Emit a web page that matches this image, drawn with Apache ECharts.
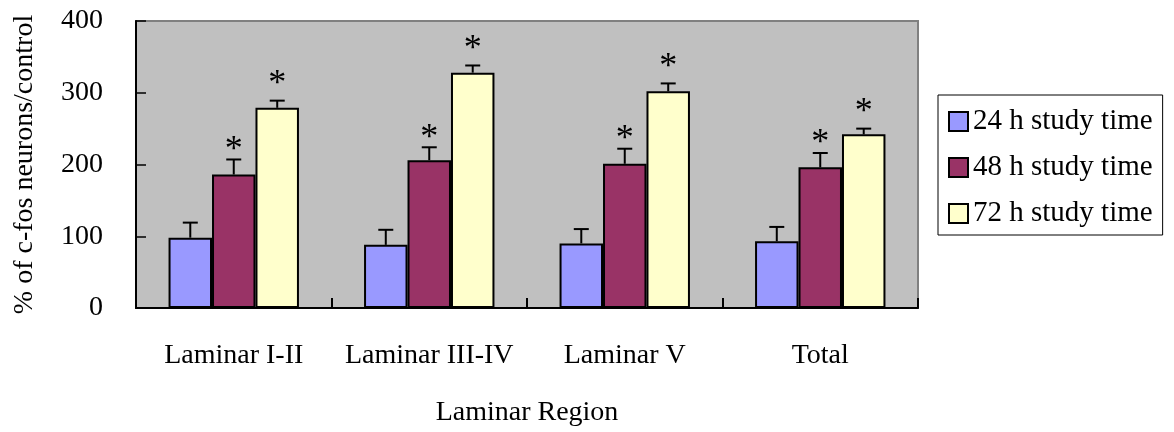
<!DOCTYPE html>
<html>
<head>
<meta charset="utf-8">
<script src="https://cdn.jsdelivr.net/npm/echarts@6/dist/echarts.min.js"></script>
<style>html,body{margin:0;padding:0;background:#fff;}#c{width:1174px;height:432px;}</style>
</head>
<body>
<div id="c"></div>
<script>
const categories = ['Laminar I-II', 'Laminar III-IV', 'Laminar V', 'Total'];
const seriesNames = ['24 h study time', '48 h study time', '72 h study time'];
const h24 = [98, 88, 90, 93];
const h24Err = [21, 21, 20, 20];
const h48 = [186, 206, 201, 196];
const h48Err = [21, 18, 21, 20];
const h72 = [279, 328, 302, 242];
const h72Err = [10, 10, 11, 8];
const sig24 = [0, 0, 0, 0];
const sig48 = [1, 1, 1, 1];
const sig72 = [1, 1, 1, 1];
const yTicks = [0, 100, 200, 300, 400];

const FONT = '"Liberation Serif", "Times New Roman", serif';
const colors = ['#9999FF', '#993366', '#FFFFCC'];
const catGap = 0.333;
const starOffsets = [20, 19, 26];

function errRender(idx) {
  return function (params, api) {
    const ci = api.value(0), v = api.value(1), e = api.value(2), sig = api.value(3);
    const base = api.coord([ci, v]);
    const top = api.coord([ci, v + e]);
    const band = api.size([1, 0])[0];
    const bw = band * (1 - catGap) / 3;
    const x = base[0] + (idx - 1) * bw;
    const st = { stroke: '#000', lineWidth: 2 };
    const children = [
      { type: 'line', shape: { x1: x, y1: base[1], x2: x, y2: top[1] }, style: st },
      { type: 'line', shape: { x1: x - 7.5, y1: top[1], x2: x + 7.5, y2: top[1] }, style: st }
    ];
    if (sig) {
      children.push({ type: 'text', style: { text: '*', x: x, y: top[1] - starOffsets[idx] + 10, align: 'center', verticalAlign: 'middle', font: '36px ' + FONT, fill: '#000' } });
    }
    return { type: 'group', children: children };
  };
}

const vals = [h24, h48, h72], errs = [h24Err, h48Err, h72Err], sigs = [sig24, sig48, sig72];
const series = [];
vals.forEach((arr, i) => {
  series.push({
    name: seriesNames[i], type: 'bar', data: arr,
    barGap: '0%', barCategoryGap: (catGap * 100) + '%',
    itemStyle: { color: colors[i], borderColor: '#000', borderWidth: 2 },
    z: 2
  });
});
vals.forEach((arr, i) => {
  series.push({
    name: 'err' + i, type: 'custom', renderItem: errRender(i),
    data: categories.map((c, k) => [k, arr[k], errs[i][k], sigs[i][k]]),
    z: 3, silent: true
  });
});

const chart = echarts.init(document.getElementById('c'));
chart.setOption({
  animation: false,
  textStyle: { fontFamily: FONT, color: '#000' },
  grid: { left: 136, right: 256, top: 21, bottom: 123.5, show: true, backgroundColor: '#C0C0C0', borderColor: '#808080', borderWidth: 2, z: 0 },
  legend: {
    data: seriesNames, orient: 'vertical', left: 938, top: 95,
    backgroundColor: '#fff', borderColor: '#000', borderWidth: 1,
    padding: [12, 10, 7, 10], itemGap: 17, itemWidth: 19, itemHeight: 19, itemTextGap: 9,
    icon: 'rect',
    textStyle: { fontFamily: FONT, fontSize: 29, color: '#000', lineHeight: 29 }
  },
  xAxis: {
    type: 'category', data: categories, z: 5,
    name: 'Laminar Region', nameLocation: 'middle', nameGap: 91,
    nameTextStyle: { fontFamily: FONT, fontSize: 28, color: '#000' },
    axisLine: { lineStyle: { color: '#000', width: 2 } },
    axisTick: { show: true, inside: true, length: 10, interval: 0, lineStyle: { color: '#000', width: 2 } },
    axisLabel: { fontFamily: FONT, fontSize: 28, color: '#000', margin: 34, interval: 0 }
  },
  yAxis: {
    type: 'value', min: 0, max: 400, interval: 100, z: 5,
    name: '% of c-fos neurons/control', nameLocation: 'middle', nameGap: 97,
    nameTextStyle: { fontFamily: FONT, fontSize: 28, color: '#000' },
    axisLine: { show: true, lineStyle: { color: '#000', width: 2 } },
    axisTick: { show: true, inside: true, length: 10, lineStyle: { color: '#000', width: 1.5 } },
    axisLabel: { fontFamily: FONT, fontSize: 28, color: '#000', margin: 33,
      formatter: v => yTicks.includes(v) ? String(v) : '' },
    splitLine: { show: false }
  },
  series: series
});
</script>
</body>
</html>
